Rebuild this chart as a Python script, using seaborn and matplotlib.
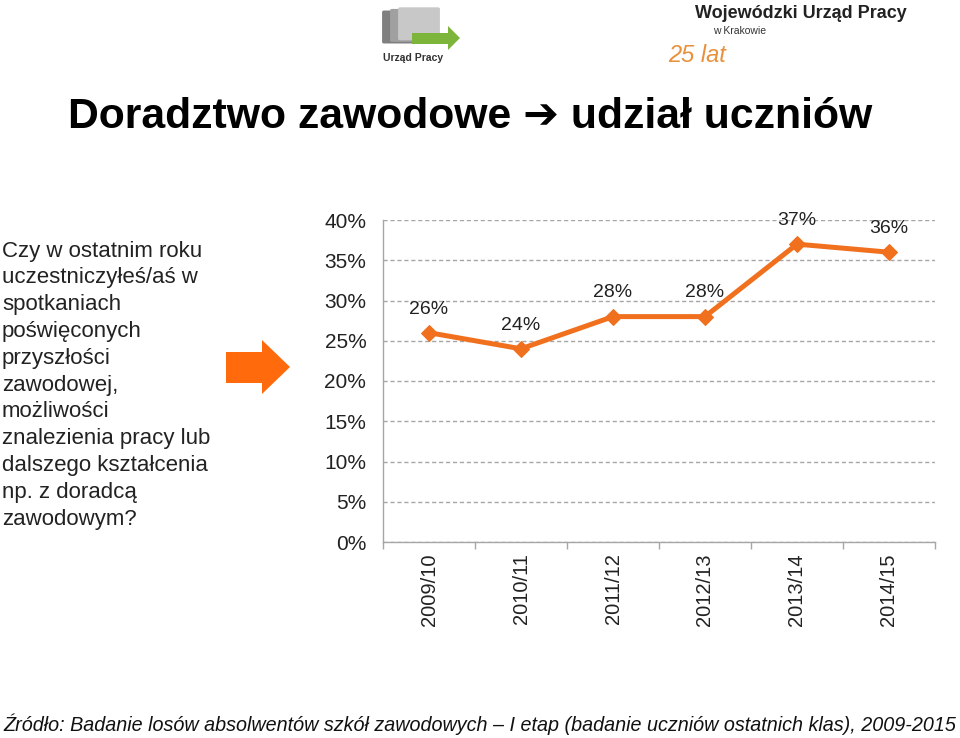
import matplotlib
matplotlib.use("Agg")
import matplotlib.pyplot as plt
import seaborn as sns
import pandas as pd
from matplotlib.patches import Polygon, FancyBboxPatch

years = ["2009/10", "2010/11", "2011/12", "2012/13", "2013/14", "2014/15"]
shares = [26, 24, 28, 28, 37, 36]
yticks = [0, 5, 10, 15, 20, 25, 30, 35, 40]
question_lines = ["Czy w ostatnim roku", "uczestniczyłeś/aś w", "spotkaniach",
                  "poświęconych", "przyszłości", "zawodowej,", "możliwości",
                  "znalezienia pracy lub", "dalszego kształcenia",
                  "np. z doradcą", "zawodowym?"]
title = "Doradztwo zawodowe \u2794 udział uczniów"
source = "Źródło: Badanie losów absolwentów szkół zawodowych – I etap (badanie uczniów ostatnich klas), 2009-2015"

sns.set_theme(style="white")
plt.rcParams['font.family'] = ['Liberation Sans', 'DejaVu Sans']

ORANGE = "#F0701E"
W, H = 960, 738
fig = plt.figure(figsize=(W / 100, H / 100), dpi=100)

def fx(px):
    return px / W

def fy(py):
    return 1 - py / H

ax = fig.add_axes([fx(383), fy(542), fx(935) - fx(383), fy(220) - fy(542)])
df = pd.DataFrame({"x": range(len(years)), "y": shares})
sns.lineplot(data=df, x="x", y="y", ax=ax, color=ORANGE, linewidth=3.6,
             marker="D", markersize=8, markeredgecolor=ORANGE, markerfacecolor=ORANGE)
for i, v in enumerate(shares):
    ax.annotate(f"{v}%", (i, v), xytext=(0, 17), textcoords="offset points",
                ha="center", va="center", fontsize=14, color="#222222")

ax.set_xlim(-0.5, len(years) - 0.5)
ax.set_ylim(0, 40)
ax.set_yticks(yticks)
ax.set_yticklabels([f"{t}%" for t in yticks], fontsize=15, color="#222222")
ax.set_xticks(range(len(years)))
ax.set_xticklabels(years, rotation=90, fontsize=14.5, color="#222222")
ax.set_xticks([i - 0.5 for i in range(len(years) + 1)], minor=True)
ax.tick_params(axis="x", which="major", length=0, pad=8)
ax.tick_params(axis="x", which="minor", length=5, color="#A6A6A6", width=1, bottom=True)
ax.tick_params(axis="y", length=0, pad=12)
ax.set_xlabel("")
ax.set_ylabel("")
ax.grid(axis="y", linestyle=(0, (3, 2)), color="#A6A6A6", linewidth=1)
ax.grid(axis="x", visible=False)
for s in ["top", "right"]:
    ax.spines[s].set_visible(False)
ax.spines["left"].set_color("#A6A6A6")
ax.spines["bottom"].set_color("#A6A6A6")
ax.spines["left"].set_linewidth(1)
ax.spines["bottom"].set_linewidth(1)

# Title
fig.text(fx(470), fy(117), title, ha="center", va="center", fontsize=30.8,
         weight="bold", color="#000000", family=['Liberation Sans', 'DejaVu Sans'])

# Question text
for k, line in enumerate(question_lines):
    fig.text(fx(2), fy(251 + k * 26.8), line, ha="left", va="center",
             fontsize=16, color="#222222")

# Orange arrow
arrow_pts = [(226, 352), (262, 352), (262, 340), (290, 367), (262, 394), (262, 383), (226, 383)]
fig.patches.append(Polygon([(fx(x), fy(y)) for x, y in arrow_pts], closed=True,
                           transform=fig.transFigure, facecolor="#FF6A0D", edgecolor="none"))

# Footer
fig.text(fx(3), fy(724), source, ha="left", va="center", fontsize=14.2,
         style="italic", color="#111111")

# Logo left (Urząd Pracy) - simple shapes
for dx, col in [(0, "#7F7F7F"), (8, "#A0A0A0"), (16, "#C8C8C8")]:
    fig.patches.append(FancyBboxPatch((fx(384 + dx), fy(42 - dx * 0.2)), fx(38), fy(0) - fy(30),
                                      boxstyle="round,pad=0.002", transform=fig.transFigure,
                                      facecolor=col, edgecolor="none"))
green_pts = [(412, 33), (448, 33), (448, 26), (460, 38), (448, 50), (448, 44), (412, 44)]
fig.patches.append(Polygon([(fx(x), fy(y)) for x, y in green_pts], closed=True,
                           transform=fig.transFigure, facecolor="#7DB53B", edgecolor="none"))
fig.text(fx(413), fy(58), "Urząd Pracy", ha="center", va="center", fontsize=7.5,
         weight="bold", color="#333333")

# Logo right
fig.text(fx(695), fy(14), "Wojewódzki Urząd Pracy", ha="left", va="center",
         fontsize=13, weight="bold", color="#222222")
fig.text(fx(713), fy(31), "w Krakowie", ha="left", va="center", fontsize=7.5, color="#333333")
fig.text(fx(668), fy(55), "25 lat", ha="left", va="center", fontsize=17,
         style="italic", color="#E8913A")

fig.savefig("out.png", dpi=100)
